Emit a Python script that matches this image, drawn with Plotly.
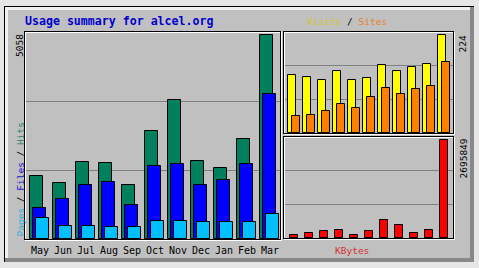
import plotly.graph_objects as go

# ---------------- data ----------------
months = ["May", "Jun", "Jul", "Aug", "Sep", "Oct", "Nov", "Dec", "Jan", "Feb", "Mar"]
hits = [1571, 1397, 1919, 1894, 1347, 2689, 3435, 1944, 1770, 2473, 5058]
files = [775, 999, 1330, 1422, 850, 1802, 1869, 1330, 1471, 1869, 3584]
pages = [527, 328, 328, 303, 303, 452, 452, 427, 427, 427, 626]
visits = [132, 127, 122, 141, 121, 125, 155, 141, 152, 157, 224]
sites = [38, 41, 50, 66, 57, 82, 102, 89, 100, 107, 162]
kbytes = [91076, 145722, 182151, 209474, 91076, 182151, 482700, 346087, 145722, 209474, 2695849]
title = "Usage summary for alcel.org"

# ---------------- layout helpers (pixels -> paper) ----------------
W, H = 479, 268
def X(p): return p / W
def Y(p): return 1 - p / H

C_HITS, C_FILES, C_PAGES = "#00805C", "#0000FF", "#00C0FF"
C_VISITS, C_SITES, C_KB = "#FFFF00", "#FF8000", "#FF0000"
FONT = "DejaVu Sans Mono"
idx = list(range(len(months)))

fig = go.Figure()

def bar(x, y, color, width, offset, xa, ya):
    fig.add_trace(go.Bar(x=x, y=y, width=width, offset=offset, xaxis=xa, yaxis=ya,
                         marker=dict(color=color, line=dict(color="black", width=1)),
                         hoverinfo="skip", showlegend=False))

# left panel (23 px per month)
bar(idx, hits, C_HITS, 0.565, -0.42, "x", "y")
bar(idx, files, C_FILES, 0.565, -0.29, "x", "y")
bar(idx, pages, C_PAGES, 0.565, -0.16, "x", "y")
# right top (15 px per month)
bar(idx, visits, C_VISITS, 0.54, -0.38, "x2", "y2")
bar(idx, sites, C_SITES, 0.52, -0.12, "x2", "y2")
# right bottom
bar(idx, kbytes, C_KB, 0.58, -0.30, "x3", "y3")

def yax(dom_top, dom_bot, vmax):
    h = dom_bot - dom_top
    R = vmax * h / (h - 3)
    return dict(domain=[Y(dom_bot), Y(dom_top)], range=[0, R], showticklabels=False,
                tickvals=[R / 3, 2 * R / 3], showgrid=True, gridcolor="#808080",
                gridwidth=1, zeroline=False, showline=False, fixedrange=True)

def xax(x0, x1, center0, step, anchor, labels):
    r0 = -(center0 - x0) / step
    r1 = r0 + (x1 - x0) / step
    d = dict(domain=[X(x0), X(x1)], range=[r0, r1], showgrid=False, zeroline=False,
             showline=False, anchor=anchor, fixedrange=True)
    if labels:
        d.update(tickvals=idx, ticktext=months, ticks="", showticklabels=True,
                 tickfont=dict(family=FONT, size=10, color="black"), ticklabelstandoff=4)
    else:
        d.update(showticklabels=False)
    return d

fig.update_layout(
    width=W, height=H, margin=dict(l=0, r=0, t=0, b=0),
    paper_bgcolor="#e6e6e6", plot_bgcolor="rgba(0,0,0,0)",
    barmode="overlay", bargap=0,
    xaxis=xax(25, 280, 40, 23, "y", True),
    yaxis=yax(32, 239, max(hits)),
    xaxis2=xax(284, 453, 294, 15, "y2", False),
    yaxis2=yax(32, 133, max(visits)),
    xaxis3=xax(284, 453, 294, 15, "y3", False),
    yaxis3=yax(137, 238, max(kbytes)),
)

shapes = []
def prect(x0, y0, x1, y1, color, layer="below"):
    shapes.append(dict(type="rect", xref="paper", yref="paper", x0=X(x0), x1=X(x1),
                       y0=Y(y1), y1=Y(y0), fillcolor=color, line=dict(width=0), layer=layer))

# outer frame with 3D bevel
prect(4, 6, 474, 262, "#c0c0c0")
prect(4, 6, 474, 7, "#000000")
prect(4, 6, 5, 262, "#000000")
prect(5, 7, 470, 10, "#f0f0f0")
prect(5, 7, 8, 258, "#f0f0f0")
prect(470, 7, 474, 262, "#888888")
prect(5, 258, 474, 262, "#888888")

def panel(bx0, by0, bx1, by1):
    # black rectangle, white rectangle offset by one pixel (engraved look)
    for (ox, col) in ((1, "#ffffff"), (0, "#000000")):
        a, b, c, d = bx0 + ox, by0 + ox, bx1 + ox, by1 + ox
        prect(a, b, c + 1, b + 1, col, "above")
        prect(a, d, c + 1, d + 1, col, "above")
        prect(a, b, a + 1, d + 1, col, "above")
        prect(c, b, c + 1, d + 1, col, "above")

panel(24, 31, 280, 239)
panel(283, 31, 453, 133)
panel(283, 136, 453, 238)
fig.update_layout(shapes=shapes)

ann = []
def text(x, y, s, color, size=9.5, xanchor="center", yanchor="middle", angle=0, bold=False):
    ann.append(dict(xref="paper", yref="paper", x=X(x), y=Y(y), text=s, showarrow=False,
                    xanchor=xanchor, yanchor=yanchor, textangle=angle,
                    font=dict(family=FONT, size=size, color=color,
                              weight="bold" if bold else "normal")))

text(23, 21, title, "#0000d0", size=11.6, xanchor="left", bold=True)
text(19.5, 32, str(max(hits)), "black", yanchor="top", angle=-90)
text(19.5, 239,
     '<span style="color:#30b0d8">Pages</span> / '
     '<span style="color:#2020d0">Files</span> / '
     '<span style="color:#2a8070">Hits</span>',
     "black", yanchor="bottom", angle=-90)
text(347, 21.5,
     '<span style="color:#d0c828">Visits</span> / <span style="color:#e88030">Sites</span>',
     "black")
text(462, 34, str(max(visits)), "black", yanchor="top", angle=-90)
text(462.5, 137, str(max(kbytes)), "black", yanchor="top", angle=-90)
text(352, 250.5, "KBytes", "#d83030")
fig.update_layout(annotations=ann)

fig.write_html("out.html")
